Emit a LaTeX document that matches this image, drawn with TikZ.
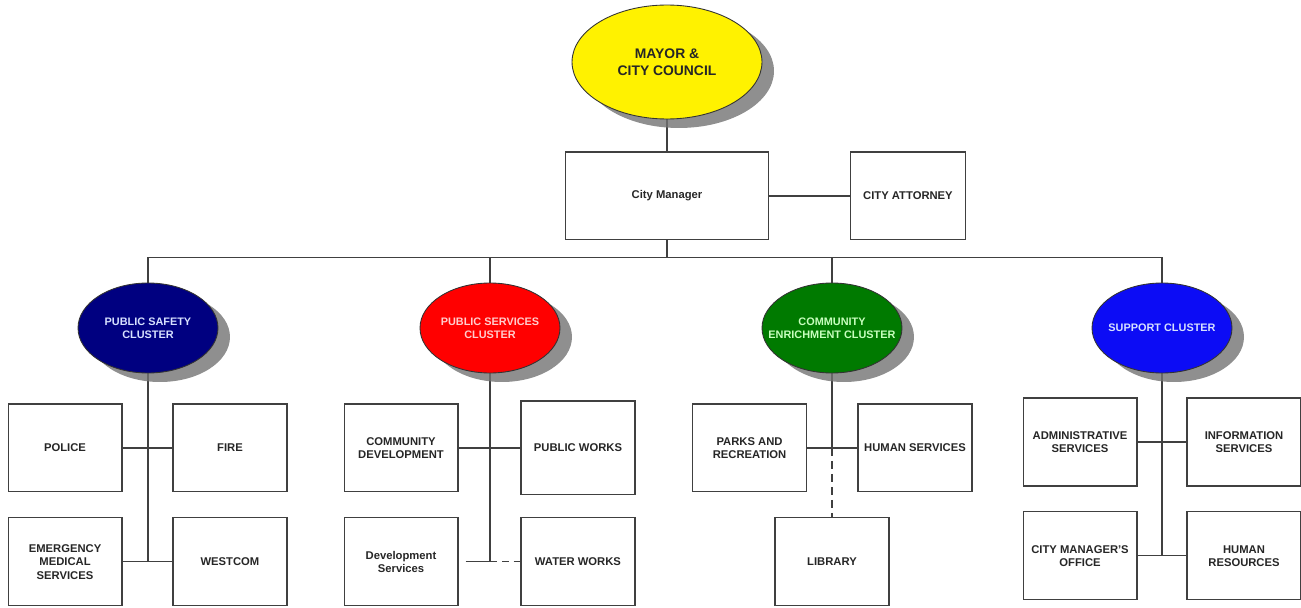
\documentclass[tikz,border=0pt]{standalone}
\usepackage{fontspec}
\setmainfont{Liberation Sans}
\usepackage{tikz}
\usetikzlibrary{shapes.geometric,shadows,positioning,backgrounds}
\definecolor{navy}{RGB}{0,0,128}
\definecolor{safetytext}{RGB}{215,225,255}
\definecolor{servicestext}{RGB}{255,205,205}
\definecolor{enrichgreen}{RGB}{0,122,0}
\definecolor{enrichtext}{RGB}{200,255,190}
\definecolor{supportblue}{RGB}{12,12,245}
\definecolor{supporttext}{RGB}{215,225,255}

\begin{document}
\begin{tikzpicture}[x=0.02cm,y=-0.02cm,on grid,
            shadowed/.style={drop shadow={shadow xshift=0.24cm,shadow yshift=-0.18cm,fill=black!55,opacity=0.8}},
            cluster/.style={ellipse,draw=black!80,line width=0.5pt,minimum width=2.8cm,minimum height=1.8cm,
                inner xsep=-0.4cm,inner ysep=0pt,align=center,font=\fontsize{6.2}{7.4}\selectfont\bfseries,shadowed},
            unit/.style={rectangle,draw=black!75,line width=0.6pt,minimum width=2.28cm,minimum height=1.76cm,
                inner sep=0pt,align=center,text=black!85,font=\fontsize{6.4}{7.7}\selectfont\bfseries},
            link/.style={draw=black!75,line width=0.6pt},
            dashlink/.style={dash pattern=on 0.13cm off 0.1cm,dash phase=0.13cm}]
            \useasboundingbox (0,0) rectangle (1301,608);
            \node[cluster,fill=yellow,minimum width=3.8cm,minimum height=2.28cm,text=black!85,
                font=\fontsize{7.9}{9.7}\selectfont\bfseries] (M_0) at (667,62) {MAYOR \&\\CITY COUNCIL};
            \node[unit,minimum width=4.06cm] (M_1) [below=2.68cm of M_0] {City Manager};
            \node[unit,minimum width=2.3cm] (A_1) [right=4.82cm of M_1] {CITY ATTORNEY};
            \coordinate[below=1.24cm of M_1] (B);
            \node[cluster,fill=navy,text=safetytext] (C_1) at (148,328) {PUBLIC SAFETY\\CLUSTER};
            \node[cluster,fill=red,text=servicestext] (C_2) at (490,328) {PUBLIC SERVICES\\CLUSTER};
            \node[cluster,fill=enrichgreen,text=enrichtext] (C_3) at (832,328) {COMMUNITY\\ENRICHMENT CLUSTER};
            \node[cluster,fill=supportblue,text=supporttext] (C_4) at (1162,328) {SUPPORT CLUSTER};
            \node[unit] (U_11) [below left=2.4cm and 1.66cm of C_1] {POLICE};
            \node[unit] (U_12) [below right=2.4cm and 1.64cm of C_1] {FIRE};
            \node[unit] (U_13) [below=2.28cm of U_11] {EMERGENCY\\MEDICAL\\SERVICES};
            \node[unit] (U_14) [below=2.28cm of U_12] {WESTCOM};
            \node[unit] (U_21) [below left=2.4cm and 1.78cm of C_2] {COMMUNITY\\DEVELOPMENT};
            \node[unit,minimum height=1.88cm] (U_22) [below right=2.4cm and 1.76cm of C_2] {PUBLIC WORKS};
            \node[unit] (U_23) [below=2.28cm of U_21] {Development\\Services};
            \node[unit] (U_24) [below=2.28cm of U_22] {WATER WORKS};
            \node[unit] (U_31) [below left=2.4cm and 1.65cm of C_3] {PARKS AND\\RECREATION};
            \node[unit] (U_32) [below right=2.4cm and 1.66cm of C_3] {HUMAN SERVICES};
            \node[unit] (U_33) [below=4.68cm of C_3] {LIBRARY};
            \node[unit] (U_41) [below left=2.28cm and 1.64cm of C_4] {ADMINISTRATIVE\\SERVICES};
            \node[unit] (U_42) [below right=2.28cm and 1.64cm of C_4] {INFORMATION\\SERVICES};
            \node[unit] (U_43) [below=2.28cm of U_41] {CITY MANAGER'S\\OFFICE};
            \node[unit] (U_44) [below=2.28cm of U_42] {HUMAN\\RESOURCES};
            \begin{scope}[on background layer]
                \draw[link] (C_1.north) -- (C_1 |- B) -- (C_4 |- B) -- (C_4.north);
                \path[link]
                    (M_0) edge (M_1)
                    (M_1) edge (A_1)
                          edge (B)
                    (C_2.north) edge (C_2 |- B)
                    (C_3.north) edge (C_3 |- B)
                    (C_1) edge (C_1 |- U_13)
                    (U_11) edge (U_12)
                    (U_13) edge (U_14)
                    (C_2) edge (C_2 |- U_23)
                    (U_21) edge (U_22)
                    (U_23) edge [shorten <=0.14cm] ([xshift=0.14cm]C_2 |- U_23)
                    ([xshift=0.14cm]C_2 |- U_23) edge [dashlink] (U_24)
                    (C_3) edge (C_3 |- U_31)
                    (U_31) edge (U_32)
                    (C_3 |- U_31) edge [dash pattern=on 0.16cm off 0.1cm] (U_33)
                    (C_4) edge (C_4 |- U_43)
                    (U_41) edge (U_42)
                    (U_43) edge (U_44);
            \end{scope}
        \end{tikzpicture}
\end{document}
